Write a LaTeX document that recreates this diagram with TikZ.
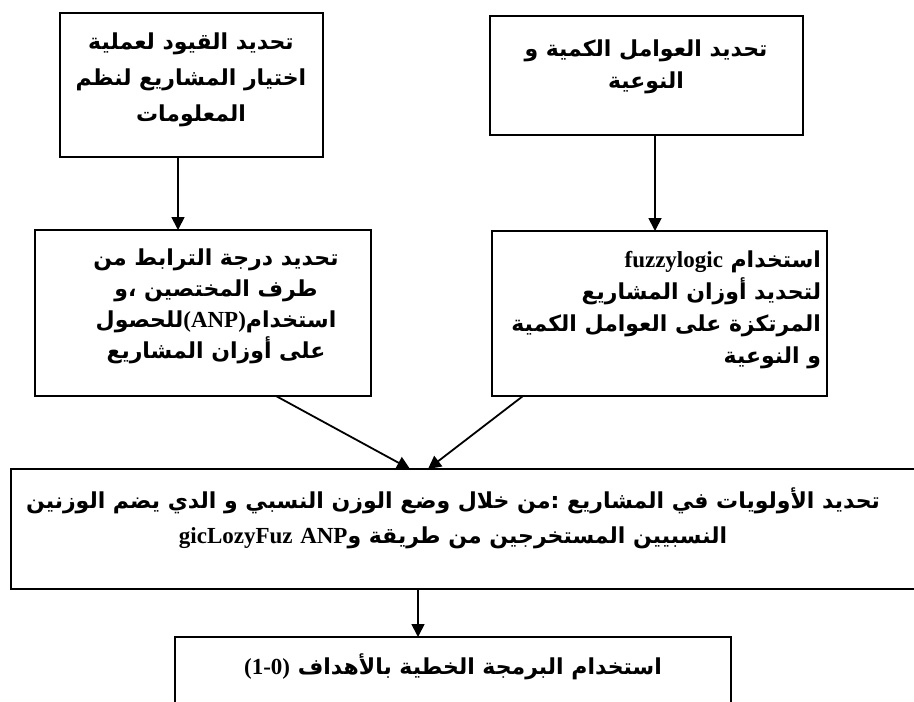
\documentclass[tikz,border=0pt]{standalone}
\usepackage{fontspec}
\usetikzlibrary{arrows.meta}
\TeXXeTstate=1
\newfontfamily\arabicfont[Script=Arabic]{DejaVu Sans}
\newfontfamily\latinfont{Liberation Serif}
% one right-to-left line
\newcommand{\rl}[1]{\beginR #1\endR}
% a left-to-right run in the serif face
\newcommand{\lat}[1]{{\latinfont\bfseries\fontsize{23}{23}\selectfont\beginL #1\endL}}
\tikzset{
  box/.style={draw=black, line width=2pt, inner sep=0pt, outer sep=0pt, fill=none},
  txt/.style={inner sep=0pt, outer sep=0pt, text=black},
  arr/.style={draw=black, line width=1.8pt, -{Triangle[length=13pt,width=13pt]}},
}
\newcommand{\arsize}[1]{\arabicfont\bfseries\fontsize{22}{#1}\selectfont}
\begin{document}
\begin{tikzpicture}[x=1pt,y=-1pt]
\useasboundingbox (0,0) rectangle (914,702);
\fill[white] (0,0) rectangle (914,702);
\clip (0,0) rectangle (914,702);

% boxes
\node[box, minimum width=263pt, minimum height=144pt] (b1) at (191.5,85) {};
\node[box, minimum width=313pt, minimum height=119pt] (b2) at (646.5,75.5) {};
\node[box, minimum width=336pt, minimum height=166pt] (b3) at (203,313) {};
\node[box, minimum width=335pt, minimum height=165pt] (b4) at (659.5,313.5) {};
\node[box, minimum width=914pt, minimum height=120pt] (b5) at (468,529) {};
\node[box, minimum width=556pt, minimum height=100pt] (b6) at (453,687) {};

% texts
\node[txt, align=center, font=\arsize{36}] (t1) at (191,80)
  {\rl{تحديد القيود لعملية}\\\rl{اختيار المشاريع لنظم}\\\rl{المعلومات}};
\node[txt, align=center, font=\arsize{32}] (t2) at (646,67)
  {\rl{تحديد العوامل الكمية و}\\\rl{النوعية}};
\node[txt, align=center, font=\arsize{31}] (t3) at (216,306)
  {\rl{تحديد درجة الترابط من}\\\rl{طرف المختصين ،و}\\\rl{استخدام\lat{(ANP)}للحصول}\\\rl{على أوزان المشاريع}};
\node[txt, align=right, font=\arsize{32}, anchor=east] (t4) at (821,310)
  {\rl{استخدام \lat{fuzzylogic}}\\\rl{لتحديد أوزان المشاريع}\\\rl{المرتكزة على العوامل الكمية}\\\rl{و النوعية}};
\node[txt, align=center, font=\arsize{35}] (t5) at (453,518)
  {\rl{تحديد الأولويات في المشاريع :من خلال وضع الوزن النسبي و الدي يضم الوزنين}\\\rl{النسبيين المستخرجين من طريقة و\lat{ANP} \lat{gicLozyFuz}}};
\node[txt, align=center, font=\arsize{35}] (t6) at (453,667)
  {\rl{استخدام البرمجة الخطية بالأهداف \lat{(1-0)}}};

% connectors
\draw[arr] (b1.south -| 178,0) -- (b3.north -| 178,0);
\draw[arr] (b2.south -| 655,0) -- (b4.north -| 655,0);
\draw[arr] (b3.south -| 276,0) -- (b5.north -| 410,0);
\draw[arr] (b4.south -| 523,0) -- (b5.north -| 428,0);
\draw[arr] (b5.south -| 418,0) -- (b6.north -| 418,0);
\end{tikzpicture}
\end{document}
